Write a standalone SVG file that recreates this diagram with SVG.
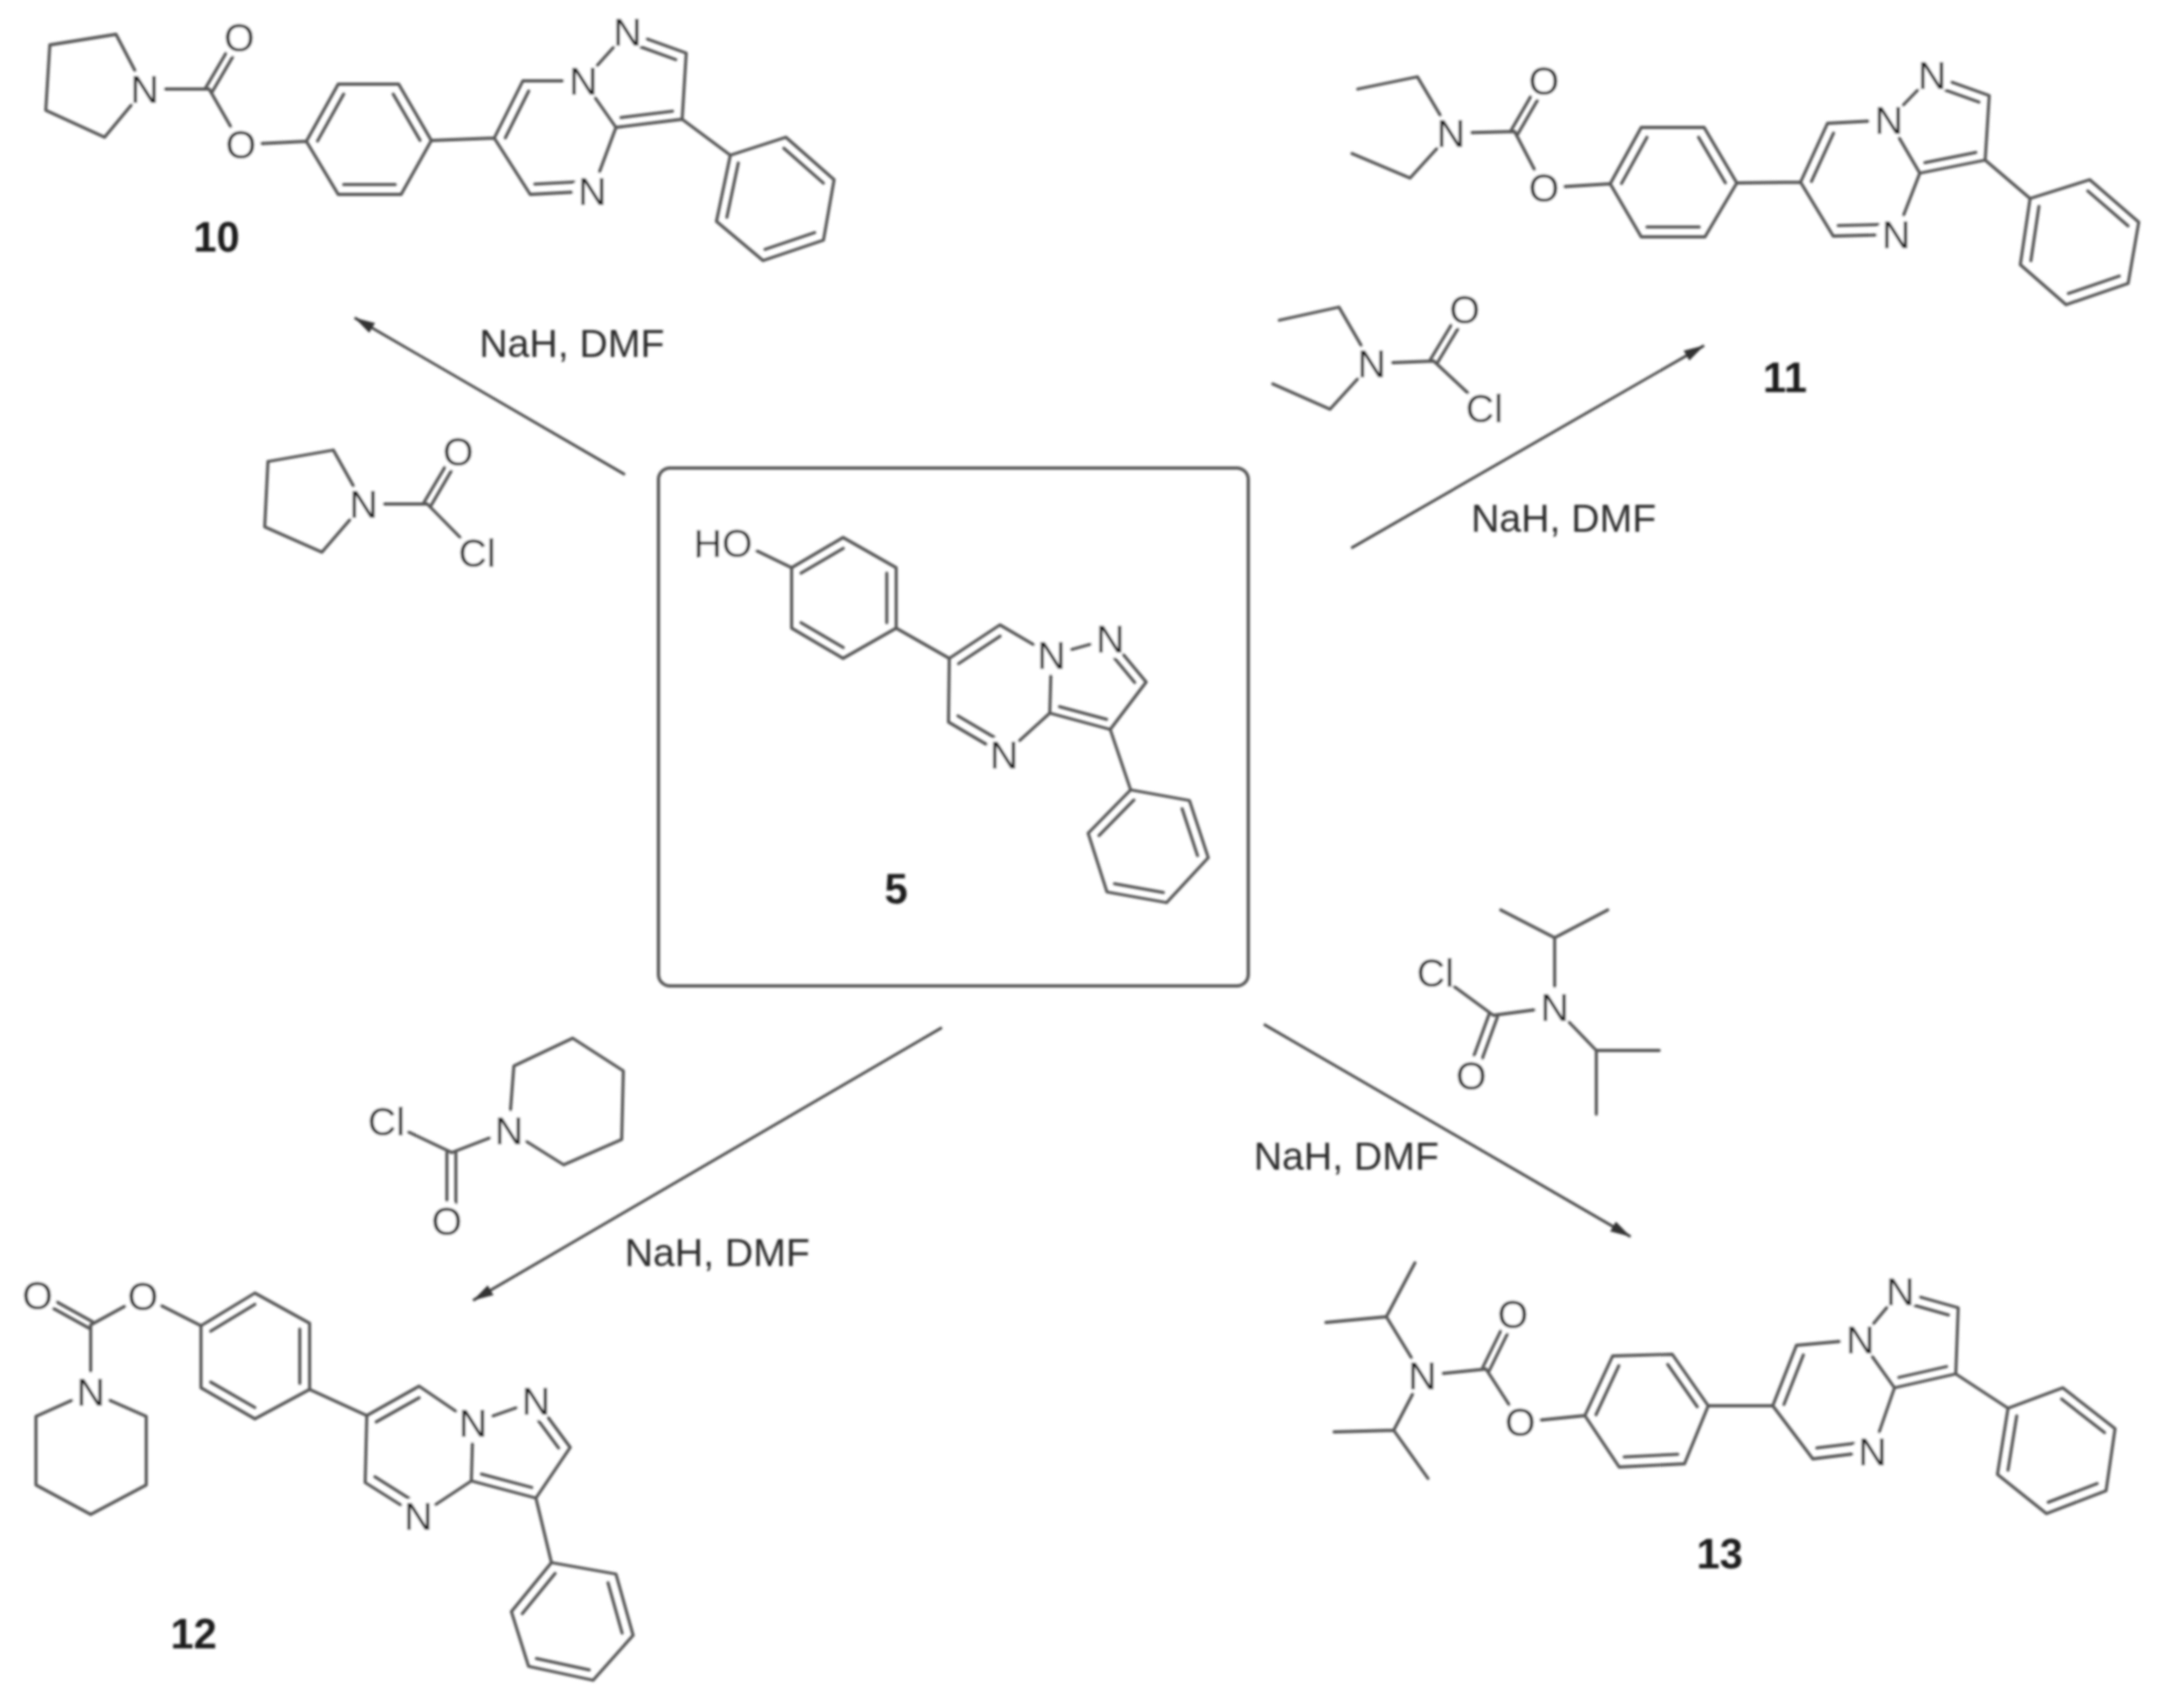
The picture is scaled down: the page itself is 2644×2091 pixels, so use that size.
<svg xmlns="http://www.w3.org/2000/svg" width="2644" height="2091" viewBox="0 0 2644 2091">
<style>
.b{fill:none;stroke:#555;stroke-width:3.8;stroke-linecap:round;stroke-linejoin:round;vector-effect:non-scaling-stroke}
.w{fill:#fff}
.a{font-family:"Liberation Sans",Arial,sans-serif;font-size:48px;fill:#1a1a1a;text-anchor:middle}
.l{font-family:"Liberation Sans",Arial,sans-serif;font-size:51px;font-weight:bold;fill:#1a1a1a;text-anchor:middle}
.c{font-family:"Liberation Sans",Arial,sans-serif;font-size:48px;fill:#2a2a2a;text-anchor:middle}
.r{fill:none;stroke:#444;stroke-width:3.2;marker-end:url(#h)}
</style>
<defs>
<filter id="soft" filterUnits="userSpaceOnUse" x="0" y="0" width="2644" height="2091"><feGaussianBlur stdDeviation="1.5"/></filter>
<marker id="h" markerUnits="userSpaceOnUse" markerWidth="26" markerHeight="16" refX="25" refY="7" orient="auto"><path d="M0,0L25,7L0,14z" fill="#333"/></marker>
</defs>
<rect width="2644" height="2091" fill="#fff"/>
<g filter="url(#soft)">
<g id="connectors">
<path class="r" d="M765,581L434,389"/>
<path class="r" d="M1654,671L2086,423"/>
<path class="r" d="M1153,1258L579,1592"/>
<path class="r" d="M1547,1254L1996,1514"/>
</g>
<g id="compound-5">
<rect x="806" y="573" width="722" height="634" rx="14" fill="none" stroke="#555" stroke-width="4"/>
<path class="b" d="M905,664L969,695L1032,658L1097,695L1097,769L1032,806L969,769L969,695M1097,769L1162,806L1224,765L1287,802L1285,873L1229,924L1161,884L1162,806M1287,802L1359,782L1403,835L1359,893L1285,873M1359,893L1384,967L1456,980L1479,1050L1428,1105L1355,1092L1332,1020L1384,967"/>
<path class="b" transform="translate(1033 732) scale(.82) translate(-1033 -732)" d="M969,695L1032,658M1097,695L1097,769M1032,806L969,769"/>
<path class="b" transform="translate(1225 842) scale(.82) translate(-1225 -842)" d="M1162,806L1224,765M1161,884L1229,924"/>
<path class="b" transform="translate(1339 837) scale(.78) translate(-1339 -837)" d="M1359,782L1403,835M1285,873L1359,893"/>
<path class="b" transform="translate(1406 1036) scale(.82) translate(-1406 -1036)" d="M1384,967L1332,1020M1456,980L1479,1050M1428,1105L1355,1092"/>
<ellipse class="w" cx="885" cy="664" rx="44" ry="24"/><circle class="w" cx="1287" cy="802" r="24"/><circle class="w" cx="1359" cy="782" r="24"/><circle class="w" cx="1229" cy="924" r="24"/>
<text class="a" x="885" y="682">HO</text><text class="a" x="1287" y="819">N</text><text class="a" x="1359" y="799">N</text><text class="a" x="1229" y="941">N</text>
<text class="l" x="1097" y="1106">5</text>
</g>
<g id="compound-10">
<path class="b" d="M61,55L142,42L177,109L128,168L56,135L61,55M177,109L256,109L295,177L375,173L414,103L488,103L528,172L491,238L414,238L375,173M528,172L605,169L640,99L714,99L754,156L725,234L649,238L605,169M714,99L768,39L840,65L835,146L754,156M835,146L894,190L962,168L1021,220L1008,294L934,319L877,271L894,190"/>
<path class="b" d="M252,107L289,44M260,112L297,49"/>
<path class="b" transform="translate(451 171) scale(.82) translate(-451 -171)" d="M375,173L414,103M488,103L528,172M491,238L414,238"/>
<path class="b" transform="translate(680 168) scale(.82) translate(-680 -168)" d="M605,169L640,99M725,234L649,238"/>
<path class="b" transform="translate(782 101) scale(.78) translate(-782 -101)" d="M754,156L835,146M768,39L840,65"/>
<path class="b" transform="translate(948 243) scale(.82) translate(-948 -243)" d="M894,190L877,271M962,168L1021,220M1008,294L934,319"/>
<circle class="w" cx="177" cy="109" r="24"/><circle class="w" cx="293" cy="46" r="24"/><circle class="w" cx="295" cy="177" r="24"/><circle class="w" cx="714" cy="99" r="24"/><circle class="w" cx="768" cy="39" r="24"/><circle class="w" cx="725" cy="234" r="24"/>
<text class="a" x="177" y="126">N</text><text class="a" x="293" y="63">O</text><text class="a" x="295" y="194">O</text><text class="a" x="714" y="116">N</text><text class="a" x="768" y="56">N</text><text class="a" x="725" y="251">N</text>
<text class="l" x="265" y="308">10</text>
</g>
<g id="compound-11">
<path class="b" d="M1662,109L1735,94L1776,163L1726,218L1655,188M1776,163L1854,161L1890,230L1971,225L2009,156L2086,156L2126,224L2087,290L2009,290L1971,225M2126,224L2204,223L2237,151L2312,147L2350,212L2321,287L2244,289L2204,223M2312,147L2365,92L2435,117L2430,196L2350,212M2430,196L2485,243L2558,220L2618,272L2605,347L2529,373L2473,324L2485,243"/>
<path class="b" d="M1850,159L1886,97M1858,164L1894,102"/>
<path class="b" transform="translate(2048 223) scale(.82) translate(-2048 -223)" d="M1971,225L2009,156M2086,156L2126,224M2087,290L2009,290"/>
<path class="b" transform="translate(2278 218) scale(.82) translate(-2278 -218)" d="M2204,223L2237,151M2321,287L2244,289"/>
<path class="b" transform="translate(2378 153) scale(.78) translate(-2378 -153)" d="M2350,212L2430,196M2365,92L2435,117"/>
<path class="b" transform="translate(2545 297) scale(.82) translate(-2545 -297)" d="M2485,243L2473,324M2558,220L2618,272M2605,347L2529,373"/>
<circle class="w" cx="1776" cy="163" r="24"/><circle class="w" cx="1890" cy="99" r="24"/><circle class="w" cx="1890" cy="230" r="24"/><circle class="w" cx="2312" cy="147" r="24"/><circle class="w" cx="2365" cy="92" r="24"/><circle class="w" cx="2321" cy="287" r="24"/>
<text class="a" x="1776" y="180">N</text><text class="a" x="1890" y="116">O</text><text class="a" x="1890" y="247">O</text><text class="a" x="2312" y="164">N</text><text class="a" x="2365" y="109">N</text><text class="a" x="2321" y="304">N</text>
<text class="l" x="2185" y="480">11</text>
</g>
<g id="compound-12">
<path class="b" d="M175,1587L111,1622L111,1704L179,1734L179,1818L111,1854L44,1818L44,1734L111,1704M175,1587L246,1623L312,1583L379,1620L379,1701L312,1737L246,1699L246,1623M379,1701L449,1733L513,1697L579,1742L577,1813L512,1856L447,1815L449,1733M579,1742L656,1715L698,1772L656,1834L577,1813M656,1834L675,1913L754,1927L775,2002L726,2057L647,2040L626,1973L675,1913"/>
<path class="b" d="M113,1618L48,1582M109,1626L44,1590"/>
<path class="b" transform="translate(312 1660) scale(.82) translate(-312 -1660)" d="M246,1623L312,1583M379,1620L379,1701M312,1737L246,1699"/>
<path class="b" transform="translate(513 1776) scale(.82) translate(-513 -1776)" d="M449,1733L513,1697M447,1815L512,1856"/>
<path class="b" transform="translate(633 1775) scale(.78) translate(-633 -1775)" d="M656,1715L698,1772M577,1813L656,1834"/>
<path class="b" transform="translate(700 1987) scale(.82) translate(-700 -1987)" d="M675,1913L626,1973M754,1927L775,2002M726,2057L647,2040"/>
<circle class="w" cx="46" cy="1586" r="24"/><circle class="w" cx="175" cy="1587" r="24"/><circle class="w" cx="111" cy="1704" r="24"/><circle class="w" cx="579" cy="1742" r="24"/><circle class="w" cx="656" cy="1715" r="24"/><circle class="w" cx="512" cy="1856" r="24"/>
<text class="a" x="46" y="1603">O</text><text class="a" x="175" y="1604">O</text><text class="a" x="111" y="1721">N</text><text class="a" x="579" y="1759">N</text><text class="a" x="656" y="1732">N</text><text class="a" x="512" y="1873">N</text>
<text class="l" x="237" y="2018">12</text>
</g>
<g id="compound-13">
<path class="b" d="M1623,1619L1697,1612L1732,1546M1697,1612L1741,1684L1819,1676L1861,1741L1940,1733L1974,1660L2047,1658L2091,1721L2062,1792L1982,1796L1940,1733M1741,1684L1706,1751L1633,1753M1706,1751L1748,1810M2091,1721L2170,1721L2199,1647L2277,1640L2319,1699L2292,1777L2219,1786L2170,1721M2277,1640L2326,1581L2397,1601L2394,1682L2319,1699M2394,1682L2458,1724L2525,1699L2589,1749L2578,1825L2505,1853L2445,1805L2458,1724"/>
<path class="b" d="M1815,1674L1848,1607M1823,1678L1856,1611"/>
<path class="b" transform="translate(2016 1727) scale(.82) translate(-2016 -1727)" d="M1940,1733L1974,1660M2047,1658L2091,1721M2062,1792L1982,1796"/>
<path class="b" transform="translate(2246 1712) scale(.82) translate(-2246 -1712)" d="M2170,1721L2199,1647M2292,1777L2219,1786"/>
<path class="b" transform="translate(2343 1641) scale(.78) translate(-2343 -1641)" d="M2326,1581L2397,1601M2319,1699L2394,1682"/>
<path class="b" transform="translate(2517 1776) scale(.82) translate(-2517 -1776)" d="M2458,1724L2445,1805M2525,1699L2589,1749M2578,1825L2505,1853"/>
<circle class="w" cx="1741" cy="1684" r="24"/><circle class="w" cx="1852" cy="1609" r="24"/><circle class="w" cx="1861" cy="1741" r="24"/><circle class="w" cx="2277" cy="1640" r="24"/><circle class="w" cx="2326" cy="1581" r="24"/><circle class="w" cx="2292" cy="1777" r="24"/>
<text class="a" x="1741" y="1701">N</text><text class="a" x="1852" y="1626">O</text><text class="a" x="1861" y="1758">O</text><text class="a" x="2277" y="1657">N</text><text class="a" x="2326" y="1598">N</text><text class="a" x="2292" y="1794">N</text>
<text class="l" x="2105" y="1920">13</text>
</g>
<g id="reagent-10">
<path class="b" d="M328,565L408,551L445,617L394,676L324,645L328,565M445,617L523,617L584,679"/>
<path class="b" d="M519,615L557,551M527,620L565,555"/>
<circle class="w" cx="445" cy="617" r="24"/><circle class="w" cx="561" cy="553" r="24"/><ellipse class="w" cx="584" cy="677" rx="30" ry="24"/>
<text class="a" x="445" y="634">N</text><text class="a" x="561" y="570">O</text><text class="a" x="584" y="694">Cl</text>
</g>
<g id="reagent-11">
<path class="b" d="M1566,392L1639,376L1679,445L1628,501L1558,470M1679,445L1755,442L1817,500"/>
<path class="b" d="M1751,440L1789,377M1759,445L1797,382"/>
<circle class="w" cx="1679" cy="445" r="24"/><circle class="w" cx="1793" cy="379" r="24"/><ellipse class="w" cx="1817" cy="500" rx="30" ry="24"/>
<text class="a" x="1679" y="462">N</text><text class="a" x="1793" y="396">O</text><text class="a" x="1817" y="517">Cl</text>
</g>
<g id="reagent-12">
<path class="b" d="M473,1373L553,1411L623,1384L629,1305L701,1271L763,1311L761,1395L690,1426L623,1384"/>
<path class="b" d="M547,1411L547,1475M558,1411L558,1475"/>
<circle class="w" cx="623" cy="1384" r="24"/><ellipse class="w" cx="473" cy="1373" rx="30" ry="24"/><circle class="w" cx="547" cy="1495" r="24"/>
<text class="a" x="623" y="1401">N</text><text class="a" x="473" y="1390">Cl</text><text class="a" x="547" y="1512">O</text>
</g>
<g id="reagent-13">
<path class="b" d="M1757,1191L1828,1243L1903,1233L1903,1148L1837,1114M1903,1148L1968,1114M1903,1233L1954,1286L2031,1286M1954,1286L1954,1364"/>
<path class="b" d="M1823,1241L1796,1315M1833,1245L1806,1319"/>
<circle class="w" cx="1903" cy="1233" r="24"/><ellipse class="w" cx="1757" cy="1191" rx="30" ry="24"/><circle class="w" cx="1801" cy="1317" r="24"/>
<text class="a" x="1903" y="1250">N</text><text class="a" x="1757" y="1208">Cl</text><text class="a" x="1801" y="1334">O</text>
</g>
<g id="conditions">
<text class="c" x="700" y="437">NaH, DMF</text>
<text class="c" x="1914" y="651">NaH, DMF</text>
<text class="c" x="878" y="1550">NaH, DMF</text>
<text class="c" x="1648" y="1432">NaH, DMF</text>
</g>
</g>
</svg>
